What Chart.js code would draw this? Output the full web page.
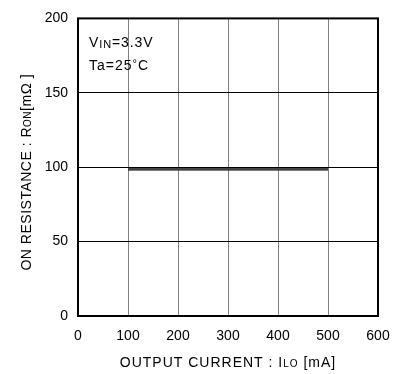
<!DOCTYPE html>
<html>
<head>
<meta charset="utf-8">
<script src="https://cdn.jsdelivr.net/npm/chart.js@4/dist/chart.umd.min.js"></script>
<style>
  html, body { margin: 0; padding: 0; background: #fff; }
  #wrap { width: 406px; height: 374px; position: relative; }
</style>
</head>
<body>
<div id="wrap"><canvas id="ron"></canvas></div>
<script>
// --- data ---
const currentMA = [100, 200, 300, 400, 500];
const ronMOhm = [98.8, 98.8, 98.8, 98.8, 98.8];
const xTicks = [0, 100, 200, 300, 400, 500, 600];
const yTicks = [0, 50, 100, 150, 200];

const FONT = 'Arial, "Liberation Sans", sans-serif';
const SIZE = 14;

// draws text pieces in sequence, some smaller (subscripts)
function runs(ctx, parts, x, y, align, spacing) {
  ctx.letterSpacing = (spacing || 0) + 'px';
  const widths = parts.map(p => { ctx.font = p[1] + 'px ' + FONT; return ctx.measureText(p[0]).width; });
  const total = widths.reduce((a, b) => a + b, 0);
  let cx = align === 'center' ? x - total / 2 : x;
  parts.forEach((p, i) => {
    ctx.font = p[1] + 'px ' + FONT;
    ctx.fillText(p[0], cx, y + (p[2] || 0));
    cx += widths[i];
  });
  ctx.letterSpacing = '0px';
}

const labelsPlugin = {
  id: 'labels',
  afterDraw(chart) {
    const { ctx, chartArea: a } = chart;
    ctx.save();
    ctx.fillStyle = '#000';
    ctx.textBaseline = 'alphabetic';
    ctx.textAlign = 'left';

    // plot frame
    ctx.strokeStyle = '#000';
    ctx.lineWidth = 2;
    ctx.strokeRect(a.left, a.top, a.right - a.left, a.bottom - a.top);

    // conditions
    runs(ctx, [['V', SIZE], ['IN', 11, 1], ['=3.3V', SIZE]], a.left + 11, 47, 'left', 0.9);
    runs(ctx, [['Ta=25', SIZE], ['°', 11, -3], ['C', SIZE]], a.left + 11, 70, 'left', 1);

    // x title
    runs(ctx, [['OUTPUT CURRENT : I', SIZE], ['LO', 10], [' [mA]', SIZE]], (a.left + a.right) / 2, 367, 'center', 1);

    // y title
    ctx.translate(31, (a.top + a.bottom) / 2 + 5);
    ctx.rotate(-Math.PI / 2);
    runs(ctx, [['ON RESISTANCE : R', SIZE], ['ON', 10], ['[m', SIZE], ['\u03A9', 15], [' ]', SIZE]], 0, 0, 'center', 0.5);
    ctx.restore();
  }
};

const ctx = document.getElementById('ron').getContext('2d');
new Chart(ctx, {
  type: 'line',
  data: {
    labels: currentMA,
    datasets: [
      // gray core drawn over the black stroke
      { data: ronMOhm, borderColor: '#888', borderWidth: 1, pointRadius: 0, tension: 0, order: 0 },
      { data: ronMOhm, borderColor: '#000', borderWidth: 3, pointRadius: 0, tension: 0, order: 1 }
    ]
  },
  options: {
    responsive: true,
    maintainAspectRatio: false,
    animation: false,
    layout: { padding: { top: 16, right: 28, left: 0, bottom: 0 } },
    plugins: { legend: { display: false }, tooltip: { enabled: false } },
    scales: {
      x: {
        type: 'linear',
        min: 0, max: 600,
        afterBuildTicks: s => { s.ticks = xTicks.map(v => ({ value: v })); },
        afterFit: s => { s.height = 58; },
        grid: { color: '#808080', lineWidth: 1, drawTicks: false },
        border: { display: false },
        ticks: { color: '#000', padding: 12, maxRotation: 0, font: { family: FONT, size: SIZE } }
      },
      y: {
        min: 0, max: 200,
        afterBuildTicks: s => { s.ticks = yTicks.map(v => ({ value: v })); },
        afterFit: s => { s.width = 78; },
        grid: { color: '#000', lineWidth: 1, drawTicks: false },
        border: { display: false },
        ticks: { color: '#000', padding: 10, font: { family: FONT, size: SIZE } }
      }
    }
  },
  plugins: [labelsPlugin]
});
</script>
</body>
</html>
